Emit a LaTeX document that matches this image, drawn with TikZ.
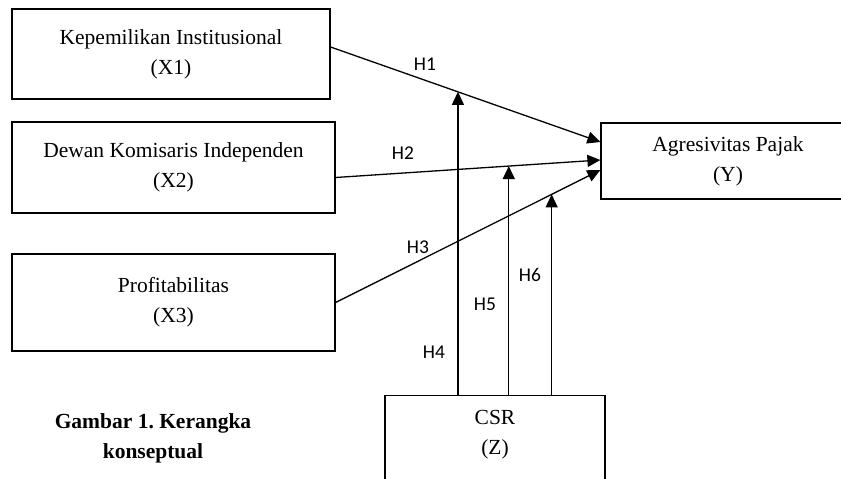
\documentclass[tikz,border=0pt]{standalone}
\usepackage{fontspec}
\setmainfont{Liberation Serif}
\newfontfamily\hfont{Carlito}
\usetikzlibrary{arrows.meta}
\tikzset{
  varbox/.style={draw,line width=1.2pt,align=center,
    font=\fontsize{21.5}{30}\selectfont},
  arr/.style={line width=1.3pt,-{Triangle[length=13pt,width=12pt]}},
  hyp/.style={font=\hfont\fontsize{19.5}{22}\selectfont}
}
\begin{document}
\begin{tikzpicture}[x=1pt,y=-1pt]
  \useasboundingbox (0,0) rectangle (841,479);
  \clip (0,0) rectangle (841,479);
  % variables
  \node[varbox,minimum width=318,minimum height=90] (x1) at (171,54)
    {Kepemilikan Institusional\\(X1)};
  \node[varbox,minimum width=323,minimum height=91] (x2) at (173.5,167.5)
    {Dewan Komisaris Independen\\(X2)};
  \node[varbox,minimum width=323,minimum height=97] (x3) at (173.5,302.5)
    {Profitabilitas\\(X3)};
  \node[varbox,minimum width=254,minimum height=76] (y) at (728,161)
    {Agresivitas Pajak\\(Y)};
  \node[draw,line width=1.2pt,minimum width=220,minimum height=110,anchor=north]
    (csr) at (495,395) {};
  \node[align=center,inner sep=0pt,anchor=north,
    font=\fontsize{21.5}{30}\selectfont] (csrtxt) at (495,410) {CSR\\(Z)};
  % direct paths
  \draw[arr] ([yshift=7pt]x1.east) -- coordinate[pos=0.472] (m1)
    ([yshift=19pt]y.west);
  \draw[arr] ([yshift=-10pt]x2.east) -- coordinate[pos=0.654] (m2)
    ([yshift=1pt]y.west);
  \draw[arr] (x3.east) -- coordinate[pos=0.816] (m3) ([yshift=-9pt]y.west);
  % moderation
  \draw[arr] (m1 |- csr.north) -- (m1);
  \draw[arr] (m2 |- csr.north) -- (m2);
  \draw[arr] (m3 |- csr.north) -- (m3);
  % labels
  \node[hyp] (h1) at (425,64) {H1};
  \node[hyp] (h2) at (403,153) {H2};
  \node[hyp] (h3) at (418,247) {H3};
  \node[hyp] (h4) at (434,352) {H4};
  \node[hyp] (h5) at (485,304) {H5};
  \node[hyp] (h6) at (530,275) {H6};
  \node[align=center,font=\bfseries\fontsize{21.5}{30}\selectfont] (cap)
    at (153,438) {Gambar 1.\ Kerangka\\konseptual};
\end{tikzpicture}
\end{document}
